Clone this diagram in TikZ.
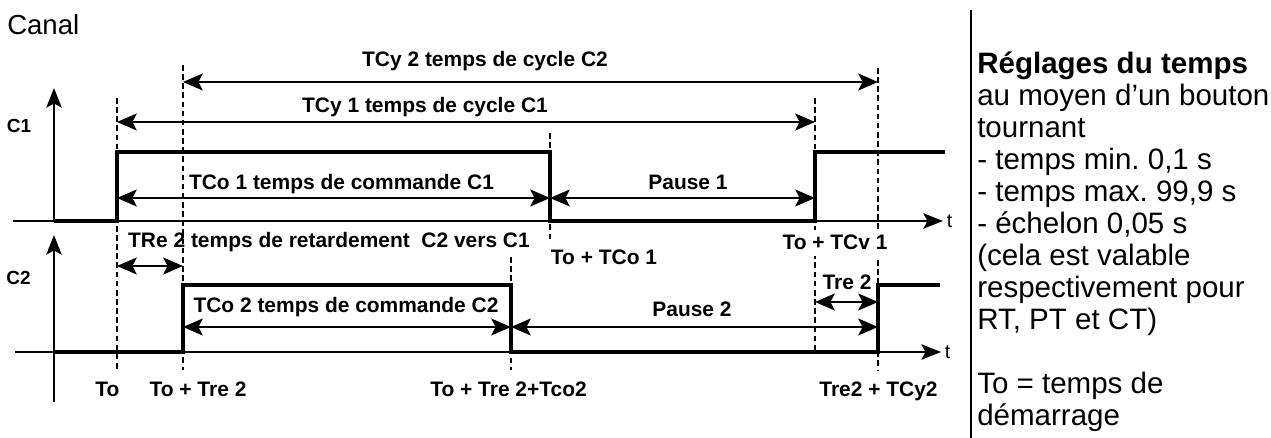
\documentclass[tikz,border=0pt]{standalone}
\usepackage{fontspec}
\setmainfont{Liberation Sans}
\usetikzlibrary{arrows.meta}
\frenchspacing

\tikzset{
    signal/.style={line width=2.4pt, line join=miter},
    axe/.style={line width=1.4pt},
    cote/.style={line width=1.2pt,
        {Stealth[length=14pt,width=12pt,inset=3pt]}-{Stealth[length=14pt,width=12pt,inset=3pt]}},
    repere/.style={line width=1pt, dash pattern=on 4pt off 2.5pt},
    etiq/.style={font=\fontsize{14.9}{16}\selectfont\bfseries, inner sep=0pt, anchor=base},
    voie/.style={font=\fontsize{13.5}{15}\selectfont\bfseries, inner sep=0pt, anchor=base},
}

\begin{document}
\begin{tikzpicture}[scale=0.25, >={Stealth[length=14pt,width=11pt,inset=3pt]}]

    \useasboundingbox (0,0) rectangle (127.1,43.8);

    % Titre
    \node[anchor=base west, inner sep=0pt, font=\fontsize{19.6}{22}\selectfont]
        (canal) at (0.7,40.3) {Canal};

    % Axes
    \draw[axe,->] (5.4,21.7) -- (5.4,35.0);
    \draw[axe,->] (5.4,3.6) -- (5.4,20.3);
    \draw[axe,->] (1.3,21.7) -- (94.3,21.7)
        node[anchor=west, inner sep=0pt, xshift=2pt, font=\fontsize{14}{16}\selectfont] (t1) {t};
    \draw[axe,->] (1.5,8.6) -- (94.1,8.6)
        node[anchor=west, inner sep=0pt, xshift=2pt, font=\fontsize{14}{16}\selectfont] (t2) {t};
    \node[voie] (c1) at (1.9,30.5) {C1};
    \node[voie] (c2) at (1.85,15.3) {C2};

    % Lignes de repere
    \foreach \xt/\ya/\yb in {11.7/34.0/6.8, 18.3/37.3/6.8, 55.0/30.5/19.8,
                             51.1/18.1/6.8, 81.5/34.0/8.6, 87.8/37.0/6.8}{
        \draw[repere] (\xt,\ya) -- (\xt,\yb);
    }

    % Signaux C1 et C2
    \draw[signal] (5.4,21.7) -- (11.7,21.7) -- (11.7,28.6) -- (55.0,28.6)
        -- (55.0,21.7) -- (81.5,21.7) -- (81.5,28.6) -- (94.5,28.6);
    \draw[signal] (5.4,8.6) -- (18.3,8.6) -- (18.3,15.3) -- (51.1,15.3)
        -- (51.1,8.6) -- (87.8,8.6) -- (87.8,15.3) -- (94.0,15.3);

    % Cotes
    \foreach \xa/\xb/\yc in {18.3/87.8/35.6, 11.7/81.5/31.6, 11.7/55.0/24.0,
                             55.0/81.5/24.0, 11.7/18.3/17.2, 18.3/51.1/11.1,
                             51.1/87.8/11.1, 81.5/87.8/13.6}{
        \draw[cote] (\xa,\yc) -- (\xb,\yc);
    }

    % Etiquettes
    \node[etiq] (tcy2) at (48.5,37.1) {TCy 2 temps de cycle C2};
    \node[etiq] (tcy1) at (42.5,32.5) {TCy 1 temps de cycle C1};
    \node[etiq] (tco1) at (34.15,24.8) {TCo 1 temps de commande C1};
    \node[etiq] (pause1) at (68.8,24.8) {Pause 1};
    \node[etiq] (tre2) at (32.9,19.0) {TRe 2 temps de retardement~ C2 vers C1};
    \node[etiq] (totco1) at (60.4,17.3) {To + TCo 1};
    \node[etiq, fill=white, inner ysep=4pt] (totcy1) at (83.5,18.8) {To + TCv 1};
    \node[etiq] (tco2) at (34.6,12.5) {TCo 2 temps de commande C2};
    \node[etiq] (pause2) at (69.2,12.1) {Pause 2};
    \node[etiq] (tre2b) at (84.7,14.8) {Tre 2};
    \node[etiq] (to) at (10.75,4.1) {To};
    \node[etiq] (totre2) at (19.8,4.1) {To + Tre 2};
    \node[etiq] (totco2) at (50.85,4.1) {To + Tre 2+Tco2};
    \node[etiq] (tretcy2) at (87.85,4.1) {Tre2 + TCy2};

    % Separation
    \draw[line width=1.4pt] (97.1,42.8) -- (97.1,0);

    % Reglages
    \node[anchor=north west, inner sep=0pt, align=left,
        font=\fontsize{21}{22.75}\selectfont] (reglages) at (97.7,38.6)
        {\textbf{Réglages du temps}\\ au moyen d’un bouton\\ tournant\\
         - temps min. 0,1 s\\ - temps max. 99,9 s\\ - échelon 0,05 s\\
         (cela est valable\\ respectivement pour\\ RT, PT et CT)\\[22.75pt]
         To = temps de\\ démarrage};

\end{tikzpicture}
\end{document}
